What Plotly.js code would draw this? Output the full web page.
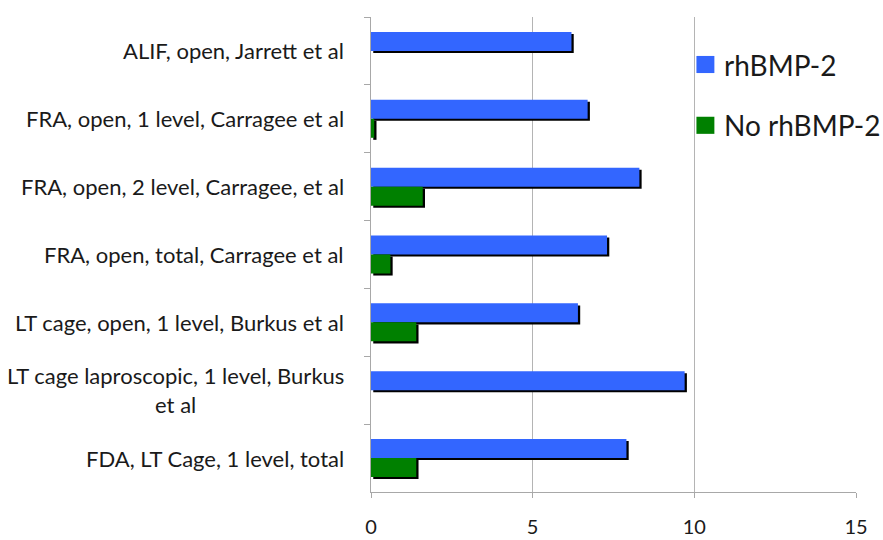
<!DOCTYPE html>
<html>
<head>
<meta charset="utf-8">
<script src="https://cdn.plot.ly/plotly-3.0.1.min.js"></script>
<style>html,body{margin:0;padding:0;background:#fff;}#chart{width:883px;height:540px;}</style>
</head>
<body>
<div id="chart"></div>
<script>
// Categories, top to bottom
const categories = [
  "ALIF, open, Jarrett et al",
  "FRA, open, 1 level, Carragee et al",
  "FRA, open, 2 level, Carragee, et al",
  "FRA, open, total, Carragee et al",
  "LT cage, open, 1 level, Burkus et al",
  "LT cage laproscopic, 1 level, Burkus<br>et al",
  "FDA, LT Cage, 1 level, total"
];
const seriesNames = ["rhBMP-2", "No rhBMP-2"];
const withBMP = [6.2, 6.7, 8.3, 7.3, 6.4, 9.7, 7.9];
const noBMP = [0, 0.1, 1.6, 0.6, 1.4, 0, 1.4];
const xTickVals = [0, 5, 10, 15];

const COLORS = ["#3366FF", "#008000"];
const FONT = "Lato, 'Open Sans', sans-serif";
const TXT = "#1a1a1a";
const W = 0.28;           // bar thickness (category units)
const SH_Y = 0.03;        // shadow vertical shift
const SH_X = 0.07;        // shadow horizontal shift (value units)

function shadow(vals, off) {
  return {type: "bar", orientation: "h", y: categories, x: vals,
    base: SH_X, offset: off + SH_Y, width: W,
    marker: {color: "#000", line: {width: 0}}, showlegend: false, hoverinfo: "skip"};
}
function bars(vals, off, name, color) {
  return {type: "bar", orientation: "h", y: categories, x: vals, name: name,
    offset: off, width: W, showlegend: false,
    marker: {color: color, line: {width: 0}}};
}

const traces = [
  shadow(withBMP, -W), shadow(noBMP, 0),
  bars(withBMP, -W, seriesNames[0], COLORS[0]),
  bars(noBMP, 0, seriesNames[1], COLORS[1])
];

const annotations = categories.map(c => ({
  xref: "paper", yref: "y", x: 0, y: c, text: c,
  xanchor: "right", yanchor: "middle", align: "center", xshift: -25,
  showarrow: false, font: {family: FONT, size: 22, color: TXT}
}));

// legend drawn as layout items (square + text)
const LEG_X = 0.671, LEG_Y0 = 0.9, LEG_DY = 0.128;
const shapes = [];
seriesNames.forEach((n, i) => {
  const yc = LEG_Y0 - i * LEG_DY;
  shapes.push({type: "rect", xref: "paper", yref: "paper",
    x0: LEG_X, x1: LEG_X + 0.037, y0: yc - 0.018, y1: yc + 0.018,
    fillcolor: COLORS[i], line: {width: 0}});
  annotations.push({xref: "paper", yref: "paper", x: LEG_X + 0.053, y: yc,
    xanchor: "left", yanchor: "middle", text: n, showarrow: false,
    font: {family: FONT, size: 28, color: TXT}});
});

const layout = {
  width: 883, height: 540,
  margin: {l: 371, r: 27, t: 17, b: 48, pad: 0},
  paper_bgcolor: "#fff", plot_bgcolor: "#fff",
  barmode: "overlay",
  showlegend: false,
  xaxis: {range: [0, 15], tickvals: xTickVals, ticktext: xTickVals.map(String),
    showgrid: true, gridcolor: "#b4b4b4", gridwidth: 1, zeroline: false,
    showline: true, linecolor: "#a8a8a8", linewidth: 1,
    ticks: "outside", ticklen: 5, tickcolor: "#a8a8a8", ticklabelstandoff: 12,
    tickfont: {family: FONT, size: 20, color: TXT}, fixedrange: true, automargin: false},
  yaxis: {type: "category", categoryorder: "array", categoryarray: categories,
    autorange: "reversed", showticklabels: false, showgrid: false, zeroline: false,
    showline: true, linecolor: "#a8a8a8", linewidth: 1,
    ticks: "outside", ticklen: 6, tickcolor: "#a8a8a8", tickson: "boundaries",
    fixedrange: true, automargin: false},
  annotations: annotations,
  shapes: shapes
};

Plotly.newPlot("chart", traces, layout, {displayModeBar: false, staticPlot: true});
</script>
</body>
</html>
